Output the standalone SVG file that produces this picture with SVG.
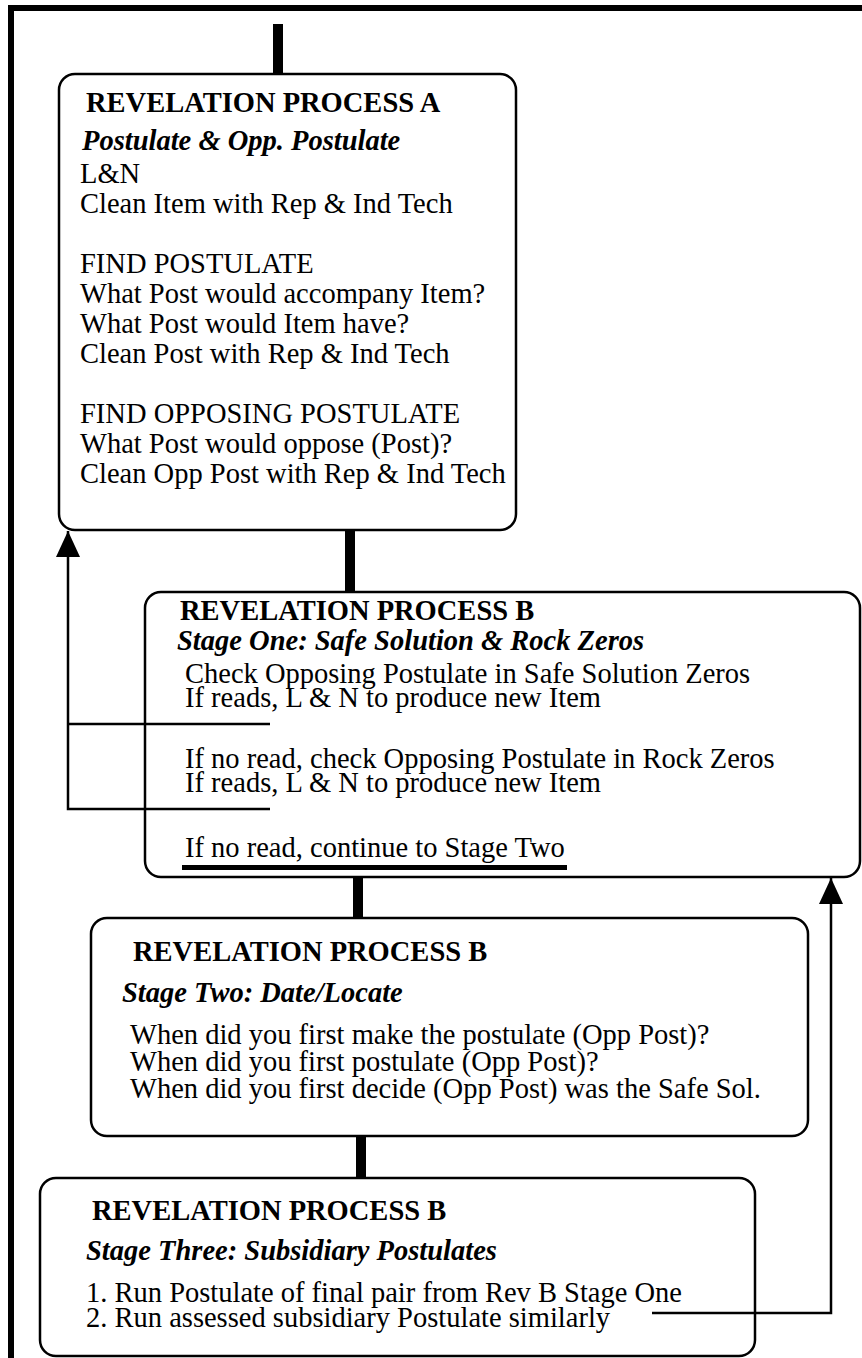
<svg xmlns="http://www.w3.org/2000/svg" width="862" height="1358" viewBox="0 0 862 1358">
<style>
.box{fill:#fff;stroke:#000;stroke-width:2.5}
.t{font-family:"Liberation Serif","Times New Roman",serif;font-size:28.5px;font-weight:bold;fill:#000}
.s{font-family:"Liberation Serif","Times New Roman",serif;font-size:28.5px;font-weight:bold;font-style:italic;fill:#000}
.b{font-family:"Liberation Serif","Times New Roman",serif;font-size:28.5px;fill:#000}
.ln{fill:none;stroke:#000;stroke-width:2.5}
.bar{fill:#000}
</style>
<defs>
<marker id="ah" markerUnits="userSpaceOnUse" markerWidth="26" markerHeight="24" refX="26" refY="12" orient="auto">
<path d="M0,0 L26,12 L0,24 Z" fill="#000"/>
</marker>
</defs>
<rect width="862" height="1358" fill="#fff"/>
<path d="M11,1362 V8 H866" fill="none" stroke="#000" stroke-width="6"/>
<g id="nodeA">
<rect class="box" x="59" y="74" width="457" height="456" rx="16"/>
<text class="t" x="86" y="112">REVELATION PROCESS A</text>
<text class="s" x="82" y="150">Postulate &amp; Opp. Postulate</text>
<text class="b" x="80" y="183">L&amp;N</text>
<text class="b" x="80" y="213">Clean Item with Rep &amp; Ind Tech</text>
<text class="b" x="80" y="273">FIND POSTULATE</text>
<text class="b" x="80" y="303">What Post would accompany Item?</text>
<text class="b" x="80" y="333">What Post would Item have?</text>
<text class="b" x="80" y="363">Clean Post with Rep &amp; Ind Tech</text>
<text class="b" x="80" y="423">FIND OPPOSING POSTULATE</text>
<text class="b" x="80" y="453">What Post would oppose (Post)?</text>
<text class="b" x="80" y="483">Clean Opp Post with Rep &amp; Ind Tech</text>
</g>
<g id="nodeB1">
<rect class="box" x="145" y="592" width="715" height="285" rx="16"/>
<text class="t" x="180" y="620">REVELATION PROCESS B</text>
<text class="s" x="177" y="650">Stage One: Safe Solution &amp; Rock Zeros</text>
<text class="b" x="185" y="683">Check Opposing Postulate in Safe Solution Zeros</text>
<text class="b" x="185" y="707">If reads, L &amp; N to produce new Item</text>
<text class="b" x="185" y="768">If no read, check Opposing Postulate in Rock Zeros</text>
<text class="b" x="185" y="792">If reads, L &amp; N to produce new Item</text>
<text class="b" x="185" y="857">If no read, continue to Stage Two</text>
<rect class="bar" x="182" y="865" width="385" height="5"/>
</g>
<g id="nodeB2">
<rect class="box" x="91" y="918" width="717" height="218" rx="16"/>
<text class="t" x="133" y="961">REVELATION PROCESS B</text>
<text class="s" x="122" y="1002">Stage Two: Date/Locate</text>
<text class="b" x="130" y="1044">When did you first make the postulate (Opp Post)?</text>
<text class="b" x="130" y="1071">When did you first postulate (Opp Post)?</text>
<text class="b" x="130" y="1098">When did you first decide (Opp Post) was the Safe Sol.</text>
</g>
<g id="nodeC">
<rect class="box" x="40" y="1178" width="715" height="178" rx="16"/>
<text class="t" x="92" y="1220">REVELATION PROCESS B</text>
<text class="s" x="86" y="1260">Stage Three: Subsidiary Postulates</text>
<text class="b" x="86" y="1302">1. Run Postulate of final pair from Rev B Stage One</text>
<text class="b" x="86" y="1327">2. Run assessed subsidiary Postulate similarly</text>
</g>
<g id="connectors">
<rect class="bar" x="273" y="24" width="10" height="51"/>
<rect class="bar" x="345" y="530" width="10" height="62"/>
<rect class="bar" x="353" y="877" width="10" height="42"/>
<rect class="bar" x="356" y="1136" width="10" height="42"/>
<path class="ln" d="M270,724 H68"/>
<path class="ln" d="M270,809 H68 V531" marker-end="url(#ah)"/>
<path class="ln" d="M652,1313 H831 V878" marker-end="url(#ah)"/>
</g>
</svg>
